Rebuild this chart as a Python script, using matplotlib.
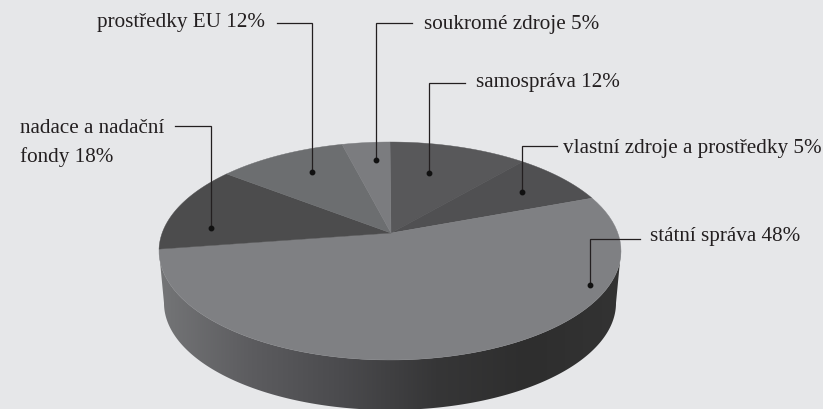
import numpy as np
import matplotlib
matplotlib.use('Agg')
import matplotlib.pyplot as plt
from matplotlib.patches import Polygon
from matplotlib.colors import LinearSegmentedColormap

# Popisky a hodnoty z obrazku
labels = ['samospráva 12%', 'vlastní zdroje a prostředky 5%', 'státní správa 48%',
          'nadace a nadační\nfondy 18%', 'prostředky EU 12%', 'soukromé zdroje 5%']
# Uhly vysecí tak, jak jsou nakreslene (ve stupnich, po smeru hodin od vrcholu)
slice_angles = [35, 26, 210, 44, 33, 12]
slice_colors = ['#58585a', '#505052', '#7f8083', '#4c4c4d', '#6c6e70', '#7b7c7f']

side_colors = ['#747577', '#5c5c5f', '#4a4a4d', '#363637', '#2e2e2e', '#333333']

# Elipsa horni plochy a spodni hrany
cx, cy, rx, ry = 390, 251, 231, 109
apex = (391, 233)
cx2, cy2, rx2, ry2 = 390, 303, 226, 107

# Pozice popisku a odkazovych car
text_pos = [(476, 83, 'left'), (563, 149, 'left'), (650, 237, 'left'),
            (20, 143, 'left'), (265, 23, 'right'), (424, 25, 'left')]
leaders = [[(465, 83), (429, 83), (429, 173)],
           [(557, 146), (522, 146), (522, 192)],
           [(640, 239), (590, 239), (590, 285)],
           [(175, 126), (211, 126), (211, 228)],
           [(277, 23), (312, 23), (312, 172)],
           [(412, 23), (376, 23), (376, 160)]]


def rim(theta, x0=cx, y0=cy, a=rx, b=ry):
    return x0 + a * np.sin(theta), y0 - b * np.cos(theta)


plt.rcParams['font.family'] = ['Liberation Serif', 'DejaVu Serif']
fig = plt.figure(figsize=(8.23, 4.09), dpi=100, facecolor='#e6e7e9')
ax = fig.add_axes([0, 0, 1, 1])
ax.set_xlim(0, 823)
ax.set_ylim(409, 0)
ax.axis('off')

# Bocni stena s prechodem
t = np.radians(np.linspace(90, 270, 300))
x1, y1 = rim(t)
x2, y2 = rim(t[::-1], cx2, cy2, rx2, ry2)
side = Polygon(np.column_stack([np.r_[x1, x2], np.r_[y1, y2]]), closed=True,
               facecolor='none', edgecolor='none', transform=ax.transData)
ax.add_patch(side)
cmap = LinearSegmentedColormap.from_list('side', side_colors)
im = ax.imshow(np.linspace(0, 1, 256)[None, :], cmap=cmap, extent=(159, 621, 409, 200),
               aspect='auto', zorder=1)
im.set_clip_path(side)
ax.set_xlim(0, 823)
ax.set_ylim(409, 0)

# Horni plocha
start = 0
for ang, col in zip(slice_angles, slice_colors):
    t = np.radians(np.linspace(start, start + ang, 80))
    x, y = rim(t)
    ax.fill(np.r_[apex[0], x], np.r_[apex[1], y], color=col, lw=0.3, zorder=2)
    start += ang

for lab, (tx, ty, ha), pts in zip(labels, text_pos, leaders):
    ax.text(tx, ty, lab, ha=ha, va='center', fontsize=15.2, color='#231f20',
            linespacing=1.6, zorder=4)
    p = np.array(pts)
    ax.plot(p[:, 0], p[:, 1], color='#231f20', lw=0.9, solid_joinstyle='miter', zorder=3)
    ax.plot(p[-1, 0], p[-1, 1], 'o', color='#111111', ms=3.2, zorder=3)

fig.savefig('out.png', dpi=100, facecolor=fig.get_facecolor())
